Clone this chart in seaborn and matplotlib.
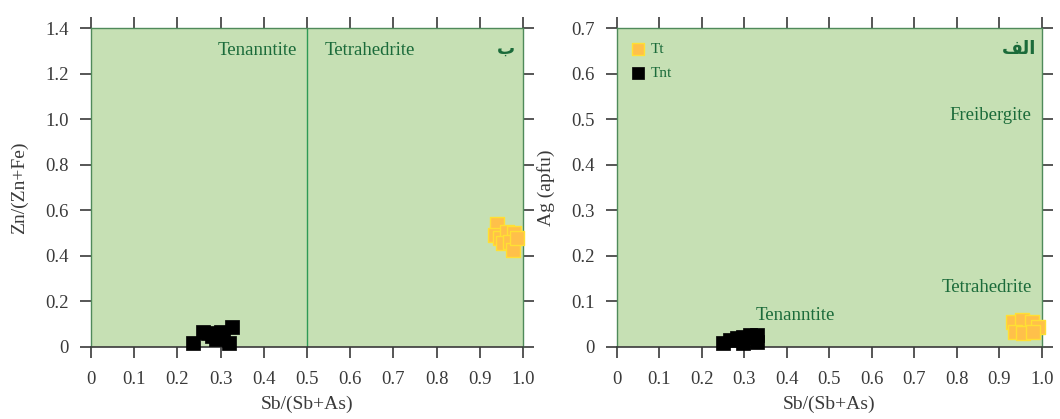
import pandas as pd
import matplotlib.pyplot as plt
import seaborn as sns

# Left panel (ب): Zn/(Zn+Fe) vs Sb/(Sb+As)
tnt_left_x = [0.236, 0.26, 0.27, 0.28, 0.29, 0.30, 0.305, 0.32, 0.326]
tnt_left_y = [0.018, 0.066, 0.06, 0.05, 0.035, 0.066, 0.048, 0.018, 0.088]
tt_left_x = [0.94, 0.935, 0.947, 0.963, 0.98, 0.954, 0.97, 0.977, 0.986]
tt_left_y = [0.54, 0.49, 0.478, 0.505, 0.50, 0.456, 0.46, 0.425, 0.478]

# Right panel (الف): Ag (apfu) vs Sb/(Sb+As)
tnt_right_x = [0.25, 0.266, 0.282, 0.297, 0.313, 0.329, 0.329, 0.297]
tnt_right_y = [0.009, 0.015, 0.02, 0.022, 0.026, 0.026, 0.011, 0.009]
tt_right_x = [0.932, 0.953, 0.976, 0.99, 0.936, 0.955, 0.979]
tt_right_y = [0.055, 0.059, 0.055, 0.044, 0.033, 0.031, 0.033]

x_ticks = [0, 0.1, 0.2, 0.3, 0.4, 0.5, 0.6, 0.7, 0.8, 0.9, 1.0]
x_labels = ['0', '0.1', '0.2', '0.3', '0.4', '0.5', '0.6', '0.7', '0.8', '0.9', '1.0']
yl_ticks = [0, 0.2, 0.4, 0.6, 0.8, 1.0, 1.2, 1.4]
yl_labels = ['0', '0.2', '0.4', '0.6', '0.8', '1.0', '1.2', '1.4']
yr_ticks = [0, 0.1, 0.2, 0.3, 0.4, 0.5, 0.6, 0.7]
yr_labels = ['0', '0.1', '0.2', '0.3', '0.4', '0.5', '0.6', '0.7']

left = pd.DataFrame({'x': tnt_left_x + tt_left_x,
                     'y': tnt_left_y + tt_left_y,
                     'min': ['Tnt'] * len(tnt_left_x) + ['Tt'] * len(tt_left_x)})
right = pd.DataFrame({'x': tnt_right_x + tt_right_x,
                      'y': tnt_right_y + tt_right_y,
                      'min': ['Tnt'] * len(tnt_right_x) + ['Tt'] * len(tt_right_x)})

sns.set_theme(style='white')
plt.rcParams['font.family'] = ['Liberation Serif', 'DejaVu Sans']

bg = '#c6e0b4'
green = '#1b6b3a'
tick_col = '#3a3a3a'
yellow = '#ffc04a'
yellow_edge = '#ffe033'

fig = plt.figure(figsize=(10.6, 4.19), dpi=100)
ax1 = fig.add_axes([0.0858, 0.172, 0.4076, 0.761])
ax2 = fig.add_axes([0.582, 0.172, 0.401, 0.761])


def style_axis(ax, yticks, ylabels, ymax):
    ax.set_facecolor(bg)
    ax.set_xlim(0, 1.0)
    ax.set_ylim(0, ymax)
    ax.set_xticks(x_ticks)
    ax.set_xticklabels(x_labels)
    ax.set_yticks(yticks)
    ax.set_yticklabels(ylabels)
    ax.tick_params(axis='both', which='both', direction='out', length=8, width=1.2,
                   color=tick_col, labelcolor=tick_col, labelsize=13.5,
                   top=True, right=True, bottom=True, left=True, pad=8)
    ax.tick_params(axis='x', pad=9)
    for side in ['left', 'top', 'right']:
        ax.spines[side].set_color('#4f8a5a')
        ax.spines[side].set_linewidth(1.0)
    ax.spines['bottom'].set_color(tick_col)
    ax.spines['bottom'].set_linewidth(1.2)
    ax.set_xlabel('Sb/(Sb+As)', fontsize=14, color=tick_col, labelpad=6)


def draw_points(ax, df):
    sns.scatterplot(data=df[df['min'] == 'Tt'], x='x', y='y', marker='s', s=90,
                    color=yellow, edgecolor=yellow_edge, linewidth=1.0,
                    label='Tt', ax=ax, zorder=3, clip_on=False)
    sns.scatterplot(data=df[df['min'] == 'Tnt'], x='x', y='y', marker='s', s=90,
                    color='black', edgecolor='black', linewidth=0.5,
                    label='Tnt', ax=ax, zorder=3, clip_on=False)


# left panel
style_axis(ax1, yl_ticks, yl_labels, 1.4)
draw_points(ax1, left)
ax1.get_legend().remove()
ax1.axvline(0.5, color='#2e9a55', lw=1.0, zorder=1)
ax1.set_ylabel('Zn/(Zn+Fe)', fontsize=14, color=tick_col, labelpad=12)
ax1.text(0.385, 1.3, 'Tenanntite', color=green, fontsize=13.5, ha='center', va='center')
ax1.text(0.645, 1.3, 'Tetrahedrite', color=green, fontsize=13.5, ha='center', va='center')
ax1.text(0.96, 1.31, '\u0628', color=green, fontsize=13, fontweight='bold',
         ha='center', va='center', family=['DejaVu Sans'])

# right panel
style_axis(ax2, yr_ticks, yr_labels, 0.7)
draw_points(ax2, right)
ax2.set_ylabel('Ag (apfu)', fontsize=14, color=tick_col, labelpad=12)
ax2.text(0.878, 0.507, 'Freibergite', color=green, fontsize=13.5, ha='center', va='center')
ax2.text(0.87, 0.13, 'Tetrahedrite', color=green, fontsize=13.5, ha='center', va='center')
ax2.text(0.42, 0.068, 'Tenanntite', color=green, fontsize=13.5, ha='center', va='center')
ax2.text(0.945, 0.655, '\uFED2\uFEDF\u0627', color=green, fontsize=13, fontweight='bold',
         ha='center', va='center', family=['DejaVu Sans'])
leg = ax2.legend(loc='upper left', frameon=False, fontsize=11, handletextpad=0.3,
                 borderaxespad=0.5, labelspacing=0.7, markerscale=0.9, handlelength=1.0)
for t in leg.get_texts():
    t.set_color(green)

fig.savefig('out.png', dpi=100)
